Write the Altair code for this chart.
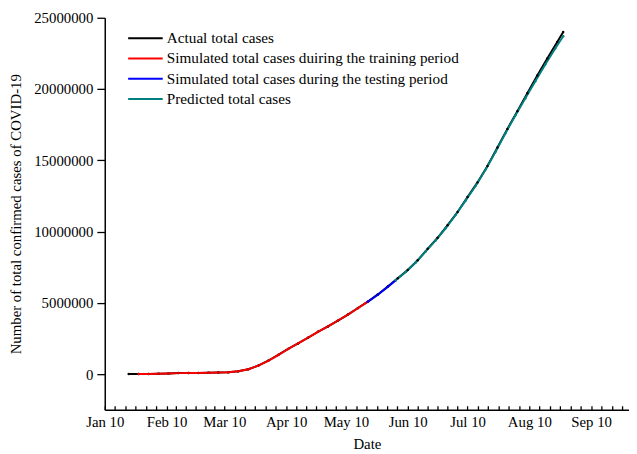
import altair as alt
import pandas as pd
from datetime import datetime, timezone

series_names = [
    "Actual total cases",
    "Simulated total cases duiring the training period",
    "Simulated total cases during the testing period",
    "Predicted total cases",
]
series_colors = ["#000000", "#ff0000", "#0000ff", "#008080"]

actual_dates = ["2020-01-22", "2020-01-27", "2020-02-01", "2020-02-06", "2020-02-11", "2020-02-16",
                "2020-02-21", "2020-02-26", "2020-03-02", "2020-03-07", "2020-03-12", "2020-03-17",
                "2020-03-22", "2020-03-27", "2020-04-01", "2020-04-06", "2020-04-11", "2020-04-16",
                "2020-04-21", "2020-04-26", "2020-05-01", "2020-05-06", "2020-05-11", "2020-05-16",
                "2020-05-21", "2020-05-26", "2020-05-31", "2020-06-05", "2020-06-10", "2020-06-15",
                "2020-06-20", "2020-06-25", "2020-06-30", "2020-07-05", "2020-07-10", "2020-07-15",
                "2020-07-20", "2020-07-25", "2020-07-30", "2020-08-04", "2020-08-09", "2020-08-14",
                "2020-08-19", "2020-08-24", "2020-08-27"]
actual_values = [555, 2900, 12000, 30800, 45200, 71200,
                 76800, 81400, 90300, 105800, 128300, 197000,
                 337000, 595000, 937000, 1346000, 1771000, 2150000,
                 2549000, 2971000, 3344000, 3752000, 4178000, 4634000,
                 5087000, 5590000, 6153000, 6721000, 7305000, 7982000,
                 8790000, 9566000, 10450000, 11370000, 12420000, 13450000,
                 14600000, 15900000, 17200000, 18450000, 19700000, 20950000,
                 22150000, 23300000, 24000000]

train_dates = ["2020-01-27", "2020-02-01", "2020-02-06", "2020-02-11", "2020-02-16", "2020-02-21",
               "2020-02-26", "2020-03-02", "2020-03-07", "2020-03-12", "2020-03-17", "2020-03-22",
               "2020-03-27", "2020-04-01", "2020-04-06", "2020-04-11", "2020-04-16", "2020-04-21",
               "2020-04-26", "2020-05-01", "2020-05-06", "2020-05-11", "2020-05-16", "2020-05-21"]
train_values = [3500, 13000, 29000, 46000, 68000, 78000,
                83000, 91000, 104000, 131000, 205000, 345000,
                590000, 925000, 1335000, 1760000, 2160000, 2560000,
                2965000, 3350000, 3760000, 4170000, 4620000, 5080000]

test_dates = ["2020-05-21", "2020-05-26", "2020-05-31", "2020-06-04"]
test_values = [5080000, 5570000, 6120000, 6580000]

pred_dates = ["2020-06-04", "2020-06-09", "2020-06-14", "2020-06-19", "2020-06-24", "2020-06-29",
              "2020-07-04", "2020-07-09", "2020-07-14", "2020-07-19", "2020-07-24", "2020-07-29",
              "2020-08-03", "2020-08-08", "2020-08-13", "2020-08-18", "2020-08-23", "2020-08-27"]
pred_values = [6580000, 7170000, 7830000, 8610000, 9380000, 10230000,
               11160000, 12170000, 13200000, 14330000, 15580000, 16900000,
               18150000, 19350000, 20550000, 21720000, 22850000, 23700000]

x_major = ["2020-01-10", "2020-02-10", "2020-03-10", "2020-04-10", "2020-05-10",
           "2020-06-10", "2020-07-10", "2020-08-10", "2020-09-10"]
x_end = "2020-09-29"
y_ticks = [0, 2500000, 5000000, 7500000, 10000000, 12500000, 15000000,
           17500000, 20000000, 22500000, 25000000]


def ms(s):
    d = datetime.strptime(s, "%Y-%m-%d").replace(tzinfo=timezone.utc)
    return int(d.timestamp() * 1000)


major_ms = [ms(s) for s in x_major]
minor_ms = []
for a, b in zip(major_ms[:-1], major_ms[1:]):
    for k in range(6):
        minor_ms.append(a + (b - a) * k / 6)
step = (major_ms[-1] - major_ms[-2]) / 6
for k in range(4):
    minor_ms.append(major_ms[-1] + k * step)

rows = []
for name, ds, vs in zip(series_names,
                        [actual_dates, train_dates, test_dates, pred_dates],
                        [actual_values, train_values, test_values, pred_values]):
    for d, v in zip(ds, vs):
        rows.append({"date": d, "value": v, "series": name})
df = pd.DataFrame(rows)

FONT = "Liberation Serif"

xscale = alt.Scale(type="utc", domain=[ms(x_major[0]), ms(x_end)], nice=False)
yscale = alt.Scale(domain=[-2500000, 25000000], nice=False, zero=False)
cscale = alt.Scale(domain=series_names, range=series_colors)

main_x_axis = alt.Axis(values=major_ms, labelExpr="utcFormat(datum.value, '%b %d')",
                       ticks=False, domain=True, domainWidth=1.5, domainColor="black",
                       labelPadding=5, title="Date", titlePadding=7, grid=False,
                       labelFlush=False, labelOverlap=False)
tick_x_axis = alt.Axis(values=minor_ms, labels=False, domain=False, ticks=True,
                       tickSize=4, tickWidth=1.3, tickColor="black", offset=-4,
                       title=None, grid=False, orient="bottom")
y_axis = alt.Axis(values=y_ticks,
                  labelExpr="datum.value % 5000000 == 0 ? format(datum.value, 'd') : ''",
                  tickSize={"condition": {"test": "datum.value % 5000000 == 0", "value": 8}, "value": 5},
                  tickWidth=1.3, tickColor="black", domainWidth=1.5, domainColor="black",
                  labelPadding=4, title="Number of total confirmed cases of COVID-19",
                  titlePadding=10, grid=False, labelOverlap=False)

legend = alt.Legend(title=None, orient="none", legendX=20, legendY=13,
                    symbolType="M-5,0H5", symbolSize=49, symbolStrokeWidth=2,
                    symbolOffset=13.5, labelOffset=14, rowPadding=3.5, padding=0,
                    labelFont=FONT, labelFontSize=15.4, labelColor="black", labelLimit=0)

lines = alt.Chart(df).mark_line(strokeWidth=2).encode(
    x=alt.X("date:T", scale=xscale, axis=main_x_axis),
    y=alt.Y("value:Q", scale=yscale, axis=y_axis),
    color=alt.Color("series:N", scale=cscale, legend=legend),
)

points = alt.Chart(df).mark_point(filled=True, size=6, opacity=1).encode(
    x=alt.X("date:T", scale=xscale, axis=tick_x_axis),
    y=alt.Y("value:Q", scale=yscale),
    color=alt.Color("series:N", scale=cscale, legend=None),
)

chart = alt.layer(lines, points).resolve_axis(x="independent").properties(
    width=531, height=397,
    padding={"left": 98, "top": 7, "right": 0, "bottom": 46},
    autosize=alt.AutoSizeParams(type="none"),
    background="white",
).configure_view(stroke=None).configure_axis(
    labelFont=FONT, labelFontSize=15, labelColor="black",
    titleFont=FONT, titleFontSize=15, titleFontWeight="normal", titleColor="black",
)

chart.save("out.html", embed_options={"renderer": "svg", "actions": False})
